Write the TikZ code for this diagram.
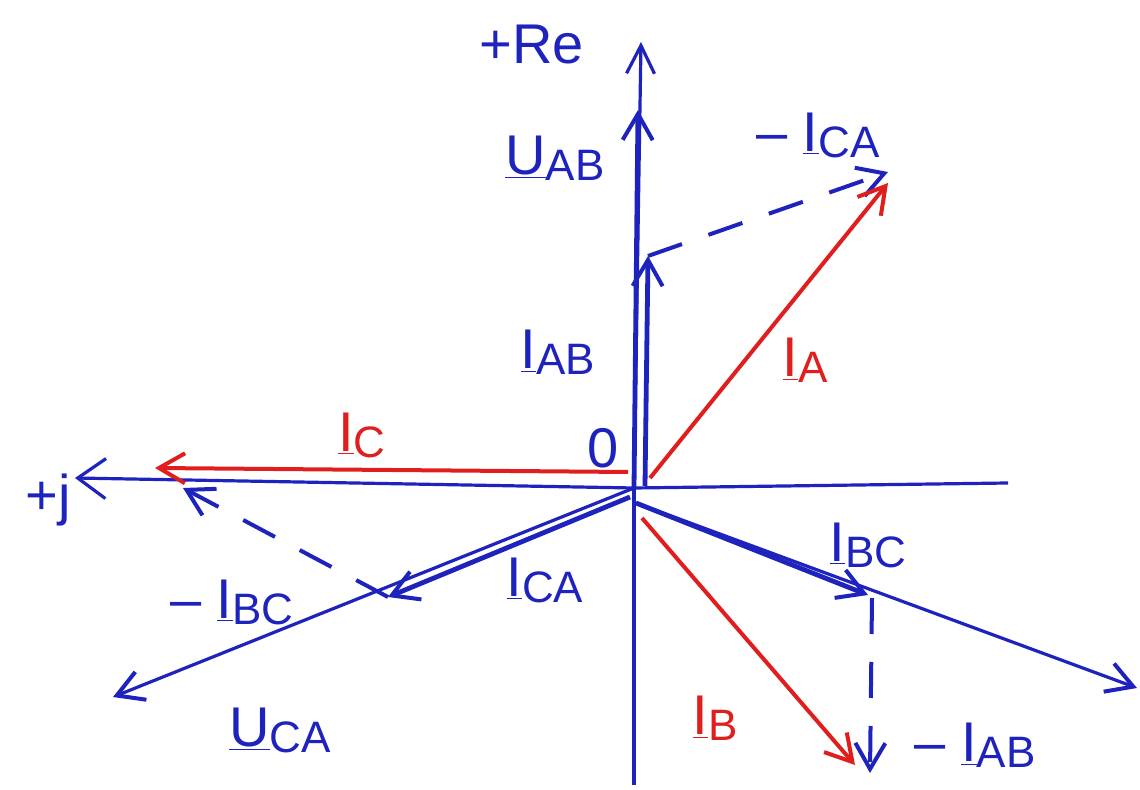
\documentclass[tikz,border=0pt]{standalone}
\usepackage{fontspec}
\setmainfont{Liberation Sans}
\usetikzlibrary{arrows.meta}
\definecolor{pblue}{RGB}{30,35,190}
\definecolor{pred}{RGB}{225,30,30}
\newcommand\ph[2]{\underline{#1}\raisebox{-0.2ex}{\fontsize{22}{24}\selectfont #2}}
\tikzset{
  tip/.style={-{Straight Barb[length=13pt,width=15pt,line width=2pt]}},
  axis/.style={pblue, line width=1.6pt},
  bvec/.style={pblue, line width=2.4pt, tip},
  rvec/.style={pred, line width=2pt, tip},
  dvec/.style={pblue, line width=2pt, tip, dash pattern=on 18pt off 14pt},
  lab/.style={font=\fontsize{28}{32}\selectfont, inner sep=1pt},
  blab/.style={lab, pblue},
  rlab/.style={lab, pred}
}
\begin{document}
\begin{tikzpicture}[x=0.5pt,y=-0.5pt]
\useasboundingbox (0,0) rectangle (1140,790);
% points
\coordinate (O) at (634,488);
\coordinate (ybot) at (634,785);
\coordinate (ytop) at (641,42);
\coordinate (xr) at (1008,483);
\coordinate (xl) at (75,478);
\coordinate (Uab) at (638,110);
\coordinate (Iab0) at (645,486);
\coordinate (Iab) at (648,256);
\coordinate (IA0) at (650,478);
\coordinate (IA) at (888,183);
\coordinate (mIca) at (888,172);
\coordinate (IC0) at (628,472);
\coordinate (IC) at (155,468);
\coordinate (Ica0) at (630,497);
\coordinate (Ica) at (388,597);
\coordinate (Uca) at (113,697);
\coordinate (mIbc) at (183,488);
\coordinate (Ibc0) at (636,503);
\coordinate (Ibc) at (868,595);
\coordinate (Ubc) at (1137,688);
\coordinate (Ibc1) at (872,598);
\coordinate (mIab) at (870,773);
\coordinate (IB0) at (642,518);
\coordinate (IB) at (855,765);
% axes
\draw[axis] (ybot) -- (O);
\draw[axis, -{Straight Barb[length=14pt,width=14pt,line width=1.6pt]}] (O) -- (ytop);
\draw[axis] (xr) -- (O);
\draw[axis, -{Straight Barb[length=14pt,width=20pt,line width=1.6pt]}] (O) -- (xl);
% vectors
\draw[bvec] (O) -- (Uab);
\draw[bvec] (Iab0) -- (Iab);
\draw[dvec] (Iab) -- (mIca);
\draw[rvec] (IA0) -- (IA);
\draw[rvec] (IC0) -- (IC);
\draw[bvec] (Ica0) -- (Ica);
\draw[pblue, line width=1.6pt, tip] (O) -- (Uca);
\draw[dvec] (Ica) -- (mIbc);
\draw[bvec] (Ibc0) -- (Ibc);
\draw[pblue, line width=1.6pt, tip] (Ibc0) -- (Ubc);
\draw[dvec] (Ibc1) -- (mIab);
\draw[rvec] (IB0) -- (IB);
% labels
\node[blab] (lRe) at (532,45) {+Re};
\node[blab] (lj) at (48,500) {+j};
\node[blab] (lUab) at (555,158) {\ph{U}{AB}};
\node[blab] (lmIca) at (818,135) {– \ph{I}{CA}};
\node[blab] (lIab) at (558,352) {\ph{I}{AB}};
\node[rlab] (lIA) at (805,360) {\ph{I}{A}};
\node[rlab] (lIC) at (362,435) {\ph{I}{C}};
\node[blab] (l0) at (603,448) {0};
\node[blab] (lmIbc) at (232,602) {– \ph{I}{BC}};
\node[blab] (lIca) at (545,580) {\ph{I}{CA}};
\node[blab] (lUca) at (280,730) {\ph{U}{CA}};
\node[blab] (lIbc) at (868,545) {\ph{I}{BC}};
\node[rlab] (lIB) at (715,718) {\ph{I}{B}};
\node[blab] (lmIab) at (975,745) {– \ph{I}{AB}};
\end{tikzpicture}
\end{document}
